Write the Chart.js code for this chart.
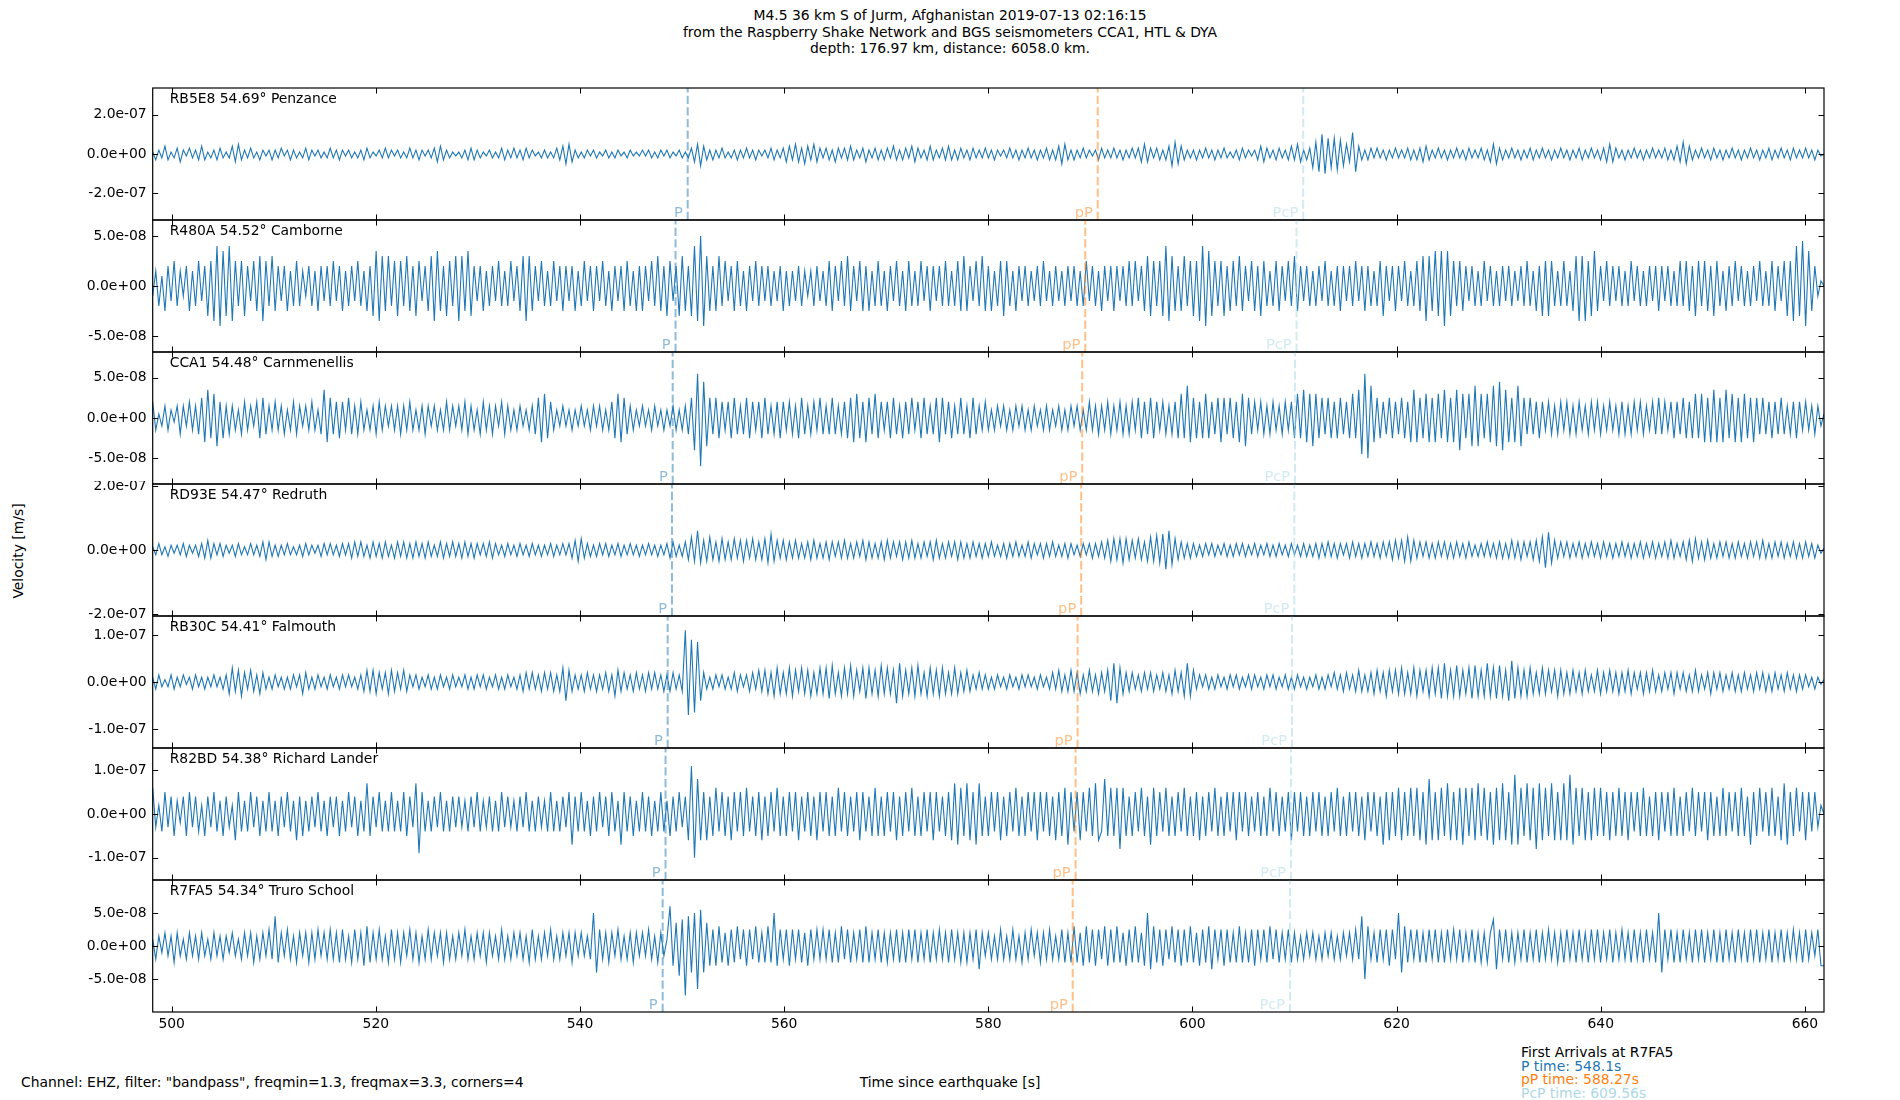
<!DOCTYPE html>
<html>
<head>
<meta charset="utf-8">
<script src="https://cdn.jsdelivr.net/npm/chart.js@4/dist/chart.umd.min.js"></script>
<style>
  body { margin: 0; background: #fff; width: 1900px; height: 1100px; position: relative; overflow: hidden;
         font-family: "DejaVu Sans", sans-serif; font-size: 13.9px; color: #000; }
  .txt { position: absolute; white-space: nowrap; line-height: 16px; }
  canvas { position: absolute; left: 0; }
</style>
</head>
<body>
<div class="txt" style="left:0;width:1900px;top:7px;text-align:center;line-height:16.7px">M4.5 36 km S of Jurm, Afghanistan 2019-07-13 02:16:15<br>from the Raspberry Shake Network and BGS seismometers CCA1, HTL &amp; DYA<br>depth: 176.97 km, distance: 6058.0 km.</div>
<div class="txt" style="left:-32px;top:543px;width:100px;text-align:center;transform:rotate(-90deg)">Velocity [m/s]</div>
<div class="txt" style="left:21px;top:1074px">Channel: EHZ, filter: "bandpass", freqmin=1.3, freqmax=3.3, corners=4</div>
<div class="txt" style="left:750px;width:400px;text-align:center;top:1074px">Time since earthquake [s]</div>
<div class="txt" style="left:1521px;top:1044px">First Arrivals at R7FA5</div>
<div class="txt" style="left:1521px;top:1058px;color:#1f77b4">P time: 548.1s</div>
<div class="txt" style="left:1521px;top:1071px;color:#ff7f0e">pP time: 588.27s</div>
<div class="txt" style="left:1521px;top:1085px;color:#add8e6">PcP time: 609.56s</div>

<script>
// tijd-as (s na de aardbeving)
const xStart = 498.14;
const xEnd = 661.87;
const xTickValues = [500, 520, 540, 560, 580, 600, 620, 640, 660];

// stations, van boven naar beneden
const stations = [
    'RB5E8 54.69° Penzance',
    'R480A 54.52° Camborne',
    'CCA1 54.48° Carnmenellis',
    'RD93E 54.47° Redruth',
    'RB30C 54.41° Falmouth',
    'R82BD 54.38° Richard Lander',
    'R7FA5 54.34° Truro School'
];

// aankomsttijden per station [s]
const pTimes = [550.55, 549.36, 549.08, 549.01, 548.59, 548.38, 548.1];
const ppTimes = [590.72, 589.5, 589.2, 589.1, 588.75, 588.55, 588.27];
const pcpTimes = [610.85, 610.2, 610.05, 609.98, 609.75, 609.65, 609.56];

// as-grenzen en tick-waarden [m/s]
const yLimits = [3.37e-7, 6.6e-8, 8.2e-8, 2.06e-7, 1.404e-7, 1.51e-7, 1.0e-7];
const yTickValues = [
    [-2e-7, 0, 2e-7],
    [-5e-8, 0, 5e-8],
    [-5e-8, 0, 5e-8],
    [-2e-7, 0, 2e-7],
    [-1e-7, 0, 1e-7],
    [-1e-7, 0, 1e-7],
    [-5e-8, 0, 5e-8]
];

// eenheid van de getallen in de sporen hieronder [m/s]
const waveUnits = [1e-8, 5e-9, 5e-9, 5e-9, 5e-9, 1e-8, 5e-9];

// sporen (elke rij = 6 s)
const penzance = [
    1,-3,2,-2,4,-3,1,-2,3,-4,2,-1,3,-2,2,-3,4,-3,1,-2,
    2,-3,3,-2,1,-2,4,-4,5,-3,2,-2,3,-2,1,-3,2,-1,2,-3,
    2,-2,3,-1,2,-3,2,-2,1,-2,3,-3,2,-1,2,-2,1,-2,3,-2,
    2,-3,2,-1,2,-2,1,-2,2,-3,3,-2,1,-1,2,-2,3,-2,2,-1,
    2,-2,1,-2,3,-2,2,-3,2,-1,2,-2,3,-4,4,-3,2,-2,1,-1,
    1,-2,2,-3,3,-3,2,-2,1,-1,2,-2,1,-2,3,-3,2,-2,3,-2,
    2,-3,3,-2,2,-1,1,-2,2,-2,1,-2,3,-3,4,-5,5,-4,2,-2,
    1,-2,2,-1,2,-2,1,-1,2,-2,1,-2,2,-1,1,-2,2,-1,1,-1,
    2,-1,2,-2,1,-2,2,-1,2,-2,1,-1,2,-2,1,-2,3,-4,5,-6,
    4,-3,2,-3,2,-2,3,-2,1,-2,2,-3,2,-2,3,-2,2,-3,2,-1,
    2,-2,3,-3,2,-2,3,-4,4,-3,5,-4,3,-5,4,-3,5,-4,3,-2,
    3,-3,2,-4,3,-2,3,-3,4,-3,2,-2,3,-4,2,-2,3,-3,2,-3,
    3,-2,4,-3,2,-3,3,-2,4,-4,3,-2,2,-3,4,-3,2,-2,3,-3,
    4,-3,2,-3,3,-2,2,-3,3,-2,2,-2,3,-2,2,-3,2,-1,2,-2,
    3,-2,2,-3,2,-2,3,-2,2,-3,2,-2,3,-3,2,-3,4,-5,5,-3,
    2,-3,2,-2,3,-2,2,-1,2,-3,3,-2,2,-2,3,-2,2,-3,2,-2,
    3,-2,3,-4,5,-4,3,-2,3,-3,2,-3,4,-6,6,-5,4,-3,2,-2,
    2,-3,2,-2,3,-2,2,-3,2,-2,3,-2,1,-2,2,-3,3,-2,2,-1,
    2,-3,4,-4,3,-2,2,-3,3,-2,2,-3,4,-3,5,-4,2,-3,3,-7,
    6,-9,10,-10,8,-7,8,-8,7,-6,5,-4,11,-9,4,-3,2,-3,3,-2,
    3,-2,2,-3,2,-2,3,-2,2,-2,3,-3,2,-3,3,-4,4,-3,2,-2,
    3,-2,2,-3,2,-2,3,-2,2,-3,3,-2,2,-2,3,-3,2,-4,5,-5,
    3,-3,2,-2,3,-2,2,-3,2,-2,3,-3,2,-2,3,-2,2,-3,2,-2,
    3,-2,2,-3,2,-2,3,-3,2,-2,3,-2,2,-3,3,-4,5,-4,3,-2,
    2,-3,2,-2,3,-2,2,-3,2,-2,3,-2,2,-2,3,-3,2,-3,4,-4,
    6,-5,4,-3,2,-2,3,-2,2,-3,3,-2,2,-3,2,-2,3,-2,2,-3,
    2,-2,3,-2,2,-3,2,-2,3,-3,2,-2,3,-2,2,-3,3,-2,2,-2,
    3,-2,2,-3,2,-1,0
];

const camborne = [
    -2,3,-4,2,-5,4,-3,5,-4,3,-2,4,-5,3,-4,5,-3,4,-6,5,
    -7,8,-8,7,-6,8,-7,5,-4,5,-6,4,-3,5,-5,6,-7,5,-4,6,
    -5,4,-3,4,-5,3,-4,5,-4,3,-2,4,-4,3,-5,4,-3,4,-4,5,
    -3,4,-5,3,-4,4,-3,5,-4,3,-5,4,-6,7,-7,6,-5,6,-4,5,
    -6,5,-4,6,-5,4,-6,5,-3,4,-5,6,-7,7,-5,4,-6,5,-4,6,
    -7,6,-5,7,-6,4,-3,4,-5,3,-4,4,-3,5,-4,3,-4,5,-3,4,
    -5,6,-7,6,-5,4,-3,5,-4,3,-4,5,-3,4,-5,4,-3,4,-5,3,
    -4,5,-3,4,-5,4,-3,5,-4,3,-5,4,-3,4,-5,5,-4,3,-5,4,
    -5,4,-3,5,-4,6,-5,4,-6,5,-3,4,-6,6,-5,4,-6,8,-7,10,
    -8,6,-5,4,-5,6,-4,5,-3,4,-5,5,-4,3,-5,4,-3,5,-4,4,
    -3,4,-4,3,-3,4,-5,3,-4,3,-3,4,-4,3,-2,3,-4,4,-3,3,
    -4,5,-5,4,-3,5,-4,6,-5,4,-3,5,-5,4,-5,3,-4,5,-4,3,
    -5,4,-3,5,-4,3,-5,5,-4,3,-4,5,-3,4,-5,4,-3,4,-4,5,
    -4,3,-4,5,-5,6,-5,4,-3,5,-4,6,-5,4,-5,3,-4,5,-6,5,
    -4,3,-5,4,-3,4,-4,3,-3,4,-4,5,-3,3,-4,4,-3,3,-4,4,
    -3,4,-4,3,-4,5,-3,4,-4,3,-5,4,-3,4,-5,4,-3,4,-4,5,
    -4,5,-3,4,-5,6,-6,5,-4,5,-6,8,-7,6,-5,4,-5,6,-4,5,
    -6,5,-7,8,-8,7,-6,5,-4,5,-6,4,-5,5,-4,6,-5,4,-3,5,
    -5,4,-6,5,-4,3,-4,5,-5,4,-3,5,-4,6,-5,4,-3,4,-4,3,
    -4,4,-3,5,-4,3,-4,4,-5,4,-3,4,-4,5,-3,4,-5,4,-4,3,
    -4,5,-6,4,-3,4,-5,4,-3,5,-4,3,-4,5,-5,6,-7,6,-5,7,
    -6,7,-8,7,-6,5,-4,5,-5,4,-3,4,-4,3,-4,5,-3,4,-4,3,
    -4,4,-3,4,-4,3,-3,4,-4,5,-4,3,-5,4,-6,5,-6,5,-4,3,
    -4,5,-4,3,-5,6,-7,6,-7,5,-6,7,-5,4,-3,5,-4,4,-3,4,
    -4,3,-4,5,-3,4,-4,3,-4,4,-3,4,-5,4,-3,4,-4,3,-4,5,
    -4,5,-5,4,-6,5,-4,5,-5,4,-6,5,-4,3,-5,4,-4,5,-3,4,
    -4,3,-4,4,-3,5,-4,3,-4,5,-5,4,-3,5,-6,5,-7,8,-6,9,
    -8,7,-5,4,-2,1,0
];

const carnmenellis = [
    4,-3,1,-2,3,-3,2,-1,3,-4,3,-2,4,-3,3,-4,5,-6,7,-5,
    6,-7,4,-5,3,-4,3,-3,2,-4,4,-3,3,-2,4,-5,5,-4,3,-3,
    4,-3,3,-4,2,-3,4,-4,3,-2,3,-3,4,-3,2,-4,7,-6,5,-4,
    4,-5,4,-3,5,-4,3,-4,4,-3,2,-3,3,-4,4,-3,3,-2,3,-3,
    3,-4,3,-3,4,-3,2,-3,3,-4,3,-2,3,-3,2,-3,4,-3,3,-2,
    3,-3,4,-4,3,-3,2,-4,4,-3,3,-4,3,-2,4,-4,3,-3,2,-3,
    3,-2,2,-3,3,-4,5,-6,6,-5,4,-3,2,-2,3,-2,2,-3,2,-2,
    3,-2,2,-3,3,-2,3,-3,2,-3,4,-5,6,-6,5,-4,3,-3,2,-2,
    3,-2,2,-3,3,-2,2,-3,2,-2,3,-3,2,-3,3,-4,5,-8,11,-12,
    9,-7,5,-4,5,-5,4,-3,4,-5,5,-4,3,-4,5,-5,4,-3,4,-5,
    5,-4,3,-4,4,-5,4,-3,4,-4,3,-5,5,-4,3,-4,4,-3,5,-4,
    3,-4,5,-4,3,-4,4,-5,5,-6,6,-5,4,-6,5,-4,6,-5,4,-3,
    4,-5,5,-4,3,-5,4,-4,5,-3,4,-5,5,-4,3,-4,5,-6,5,-4,
    4,-5,3,-4,5,-4,3,-5,5,-4,3,-3,4,-3,2,-3,3,-2,3,-3,
    2,-3,3,-2,3,-3,2,-3,3,-2,2,-3,3,-3,2,-2,3,-3,2,-3,
    3,-2,3,-3,2,-3,4,-3,3,-4,3,-3,4,-4,3,-3,4,-4,3,-4,
    4,-3,5,-5,4,-4,5,-5,4,-3,4,-4,3,-4,4,-5,6,-5,8,-6,
    5,-5,4,-5,6,-5,4,-4,5,-6,5,-4,5,-5,4,-6,6,-7,5,-4,
    4,-3,4,-4,3,-4,4,-3,3,-4,4,-3,4,-5,6,-5,7,-6,6,-7,
    6,-5,5,-4,5,-5,4,-5,5,-4,4,-5,6,-5,7,-9,11,-10,8,-6,
    5,-5,4,-4,5,-5,4,-4,5,-5,4,-6,7,-6,5,-5,6,-6,5,-6,
    6,-5,7,-6,5,-6,7,-8,6,-5,6,-7,8,-7,6,-5,6,-6,8,-7,
    9,-8,7,-6,5,-6,8,-7,5,-4,5,-4,4,-5,4,-3,4,-4,3,-4,
    4,-3,4,-4,3,-4,4,-3,3,-4,4,-3,4,-4,3,-3,4,-3,3,-4,
    4,-4,3,-4,4,-3,4,-4,3,-3,4,-4,5,-4,4,-3,4,-5,4,-4,
    5,-5,4,-5,6,-5,6,-6,5,-6,7,-6,5,-6,7,-5,6,-6,5,-6,
    6,-5,5,-6,5,-4,5,-4,4,-5,4,-4,5,-4,3,-4,4,-5,4,-3,
    4,-3,3,-4,3,-2,1
];

const redruth = [
    2,-3,4,-3,2,-4,3,-2,3,-3,4,-4,3,-2,3,-4,4,-5,6,-5,
    4,-3,4,-4,3,-2,3,-4,4,-3,2,-3,4,-3,3,-4,5,-6,5,-4,
    3,-4,3,-3,4,-3,2,-3,3,-4,4,-3,3,-2,3,-4,4,-3,4,-3,
    3,-4,4,-3,4,-5,5,-4,5,-4,3,-5,5,-4,4,-5,5,-4,3,-5,
    5,-4,5,-5,4,-5,5,-4,4,-5,5,-4,3,-4,5,-5,4,-4,5,-4,
    4,-5,5,-4,4,-5,4,-3,4,-4,5,-5,4,-3,3,-4,4,-3,3,-4,
    4,-3,3,-4,4,-3,3,-4,3,-3,4,-4,3,-3,4,-3,4,-5,6,-7,
    7,-5,4,-4,3,-4,4,-3,4,-4,3,-3,4,-4,3,-3,4,-3,3,-4,
    3,-3,4,-3,3,-4,3,-3,4,-5,5,-4,3,-4,5,-6,8,-7,12,-8,
    6,-7,8,-6,5,-7,7,-6,5,-6,7,-5,6,-7,6,-5,7,-6,5,-6,
    7,-8,10,-7,6,-5,6,-6,5,-5,6,-5,4,-5,5,-6,6,-5,4,-5,
    5,-6,5,-4,5,-5,6,-5,4,-5,5,-4,6,-6,5,-5,4,-5,5,-6,
    6,-5,5,-4,5,-6,5,-5,6,-5,4,-5,5,-4,5,-6,6,-5,4,-5,
    5,-4,5,-6,5,-5,4,-5,5,-4,4,-5,4,-4,5,-4,3,-4,4,-5,
    4,-4,5,-4,3,-4,5,-5,4,-3,4,-5,4,-4,5,-4,3,-4,4,-5,
    4,-3,3,-4,4,-3,4,-5,4,-4,5,-5,6,-7,7,-6,7,-8,7,-6,
    6,-5,7,-6,5,-7,8,-7,9,-8,10,-12,12,-9,7,-6,5,-5,4,-5,
    4,-4,3,-4,4,-3,4,-4,3,-3,4,-4,3,-4,4,-3,4,-4,3,-3,
    4,-4,3,-3,4,-4,3,-4,4,-3,3,-4,4,-3,3,-4,4,-4,3,-4,
    4,-5,4,-4,5,-4,4,-5,4,-3,4,-5,5,-4,4,-5,4,-4,5,-4,
    4,-5,5,-4,5,-6,6,-5,6,-7,8,-7,6,-5,5,-4,5,-5,4,-5,
    5,-4,5,-5,4,-5,5,-4,4,-5,5,-4,3,-4,4,-4,5,-4,4,-5,
    5,-5,4,-5,6,-5,5,-6,5,-4,5,-6,6,-7,8,-11,11,-8,6,-5,
    5,-4,5,-5,4,-4,5,-5,4,-4,5,-4,4,-5,5,-4,4,-5,4,-4,
    5,-4,4,-5,4,-4,5,-5,4,-4,5,-5,4,-4,5,-5,6,-5,4,-4,
    5,-6,6,-7,7,-5,5,-6,6,-5,4,-5,5,-4,5,-5,4,-5,5,-4,
    4,-5,5,-4,5,-5,6,-5,4,-5,5,-4,5,-5,4,-4,5,-5,4,-5,
    5,-4,4,-5,3,-2,1
];

const falmouth = [
    2,-3,3,-2,1,-2,3,-3,2,-2,3,-1,2,-3,3,-2,2,-3,2,-2,
    3,-2,2,-3,3,-5,6,-4,5,-6,4,-3,5,-4,3,-5,4,-3,2,-3,
    3,-2,2,-3,2,-3,3,-2,3,-5,4,-3,2,-3,3,-2,2,-3,3,-2,
    2,-3,3,-2,3,-2,2,-3,3,-4,5,-4,5,-5,4,-3,4,-5,5,-4,
    4,-3,5,-4,3,-2,3,-3,2,-2,3,-3,2,-3,3,-2,2,-3,3,-2,
    2,-2,3,-3,2,-3,3,-2,3,-3,2,-2,3,-3,2,-3,3,-2,2,-3,
    3,-4,4,-3,4,-3,3,-4,4,-3,4,-4,3,-4,6,-8,5,-4,3,-3,
    3,-4,4,-3,3,-4,3,-3,4,-4,3,-6,5,-4,4,-3,3,-4,4,-3,
    3,-4,4,-3,4,-3,3,-4,3,-4,4,-3,3,-4,22,-14,18,-13,17,-8,
    4,-3,2,-3,3,-2,3,-3,2,-3,4,-4,3,-2,3,-4,4,-3,5,-4,
    5,-5,4,-6,6,-5,4,-5,6,-6,5,-4,6,-5,5,-6,4,-5,6,-5,
    6,-7,7,-5,4,-6,6,-5,7,-6,5,-4,6,-7,6,-5,5,-6,7,-5,
    6,-5,5,-9,8,-6,5,-5,6,-6,7,-5,4,-6,6,-5,5,-6,6,-5,
    4,-5,6,-5,4,-4,5,-4,3,-3,4,-3,3,-3,2,-3,3,-2,2,-3,
    3,-2,2,-3,3,-2,3,-2,2,-3,3,-2,2,-3,4,-3,5,-4,3,-4,
    5,-4,4,-5,3,-4,5,-4,3,-5,4,-4,5,-8,8,-9,6,-5,4,-4,
    4,-3,3,-4,4,-3,4,-4,3,-3,4,-4,3,-5,5,-4,4,-6,8,-6,
    5,-3,3,-2,3,-3,2,-3,3,-2,2,-3,3,-2,3,-3,2,-2,3,-3,
    3,-2,2,-3,3,-2,3,-3,2,-2,3,-3,2,-3,3,-2,2,-3,2,-2,
    3,-3,2,-3,3,-2,4,-3,3,-4,4,-3,3,-4,5,-4,3,-4,4,-5,
    5,-4,4,-6,5,-4,5,-5,6,-5,4,-5,6,-6,5,-4,5,-6,6,-5,
    6,-7,8,-6,5,-6,7,-6,5,-5,6,-7,7,-6,5,-6,8,-6,6,-7,
    7,-6,5,-8,9,-7,6,-6,5,-6,6,-5,4,-5,6,-5,5,-4,5,-6,
    5,-5,4,-5,5,-4,4,-5,5,-4,3,-4,5,-5,4,-4,5,-4,4,-5,
    4,-4,5,-5,4,-3,4,-5,4,-4,5,-4,3,-4,4,-3,4,-5,4,-3,
    4,-4,3,-4,5,-4,3,-3,4,-5,4,-3,4,-4,3,-3,4,-4,3,-4,
    4,-3,3,-4,4,-3,4,-4,3,-4,4,-3,3,-4,4,-3,3,-4,3,-3,
    3,-2,2,-3,2,-1,1
];

const richardLander = [
    6,-3,2,-4,5,-3,4,-5,3,-2,4,-5,5,-3,4,-4,2,-5,4,-3,
    5,-4,3,-5,4,-3,2,-6,5,-4,3,-4,5,-3,4,-5,3,-4,5,-4,
    3,-5,4,-3,5,-4,3,-6,4,-5,3,-4,4,-3,5,-4,3,-5,4,-3,
    4,-5,3,-4,5,-3,4,-5,3,-4,7,-5,4,-3,5,-4,3,-4,5,-4,
    3,-4,5,-5,4,-3,7,-9,5,-4,3,-4,4,-3,5,-4,3,-4,4,-3,
    4,-3,3,-4,4,-3,5,-4,3,-3,4,-4,3,-4,5,-3,4,-3,3,-4,
    4,-3,5,-4,3,-4,4,-3,3,-4,5,-4,3,-4,4,-3,5,-7,4,-4,
    5,-4,3,-5,4,-4,5,-3,4,-5,5,-4,3,-7,5,-4,4,-5,3,-4,
    5,-4,4,-5,3,-4,5,-4,3,-5,4,-4,5,-3,4,-6,11,-10,8,-6,
    5,-6,4,-5,6,-4,5,-5,4,-6,5,-4,5,-5,6,-4,4,-5,5,-6,
    4,-5,5,-4,6,-5,4,-5,5,-4,5,-6,4,-4,5,-5,4,-6,5,-4,
    5,-5,4,-5,6,-4,5,-5,4,-4,5,-6,5,-4,4,-5,6,-5,4,-5,
    5,-4,5,-6,4,-5,5,-4,6,-5,4,-5,5,-4,5,-6,5,-4,4,-5,
    5,-6,7,-7,6,-5,7,-6,5,-7,7,-5,4,-5,5,-4,5,-6,4,-5,
    5,-4,6,-5,4,-5,5,-4,5,-6,5,-4,5,-5,4,-6,5,-5,6,-7,
    5,-4,5,-6,5,-4,6,-5,7,-6,-4,8,-5,6,-5,6,-8,6,-5,4,
    -5,5,-4,6,-5,4,-7,6,-5,5,-4,6,-5,4,-5,5,-4,6,-5,4,
    -5,5,-6,4,-5,5,-4,6,-5,4,-5,5,-4,5,-6,5,-4,5,-5,4,
    -4,5,-5,4,-5,6,-4,5,-5,4,-4,5,-6,5,-4,5,-5,4,-5,5,
    -4,5,-5,4,-5,5,-4,6,-5,4,-5,5,-4,5,-5,4,-6,5,-4,5,
    -5,4,-7,5,-6,5,-5,6,-6,5,-5,6,-5,6,-6,5,-7,8,-6,5,
    -6,6,-5,7,-6,5,-6,6,-7,6,-5,6,-6,7,-5,6,-6,5,-7,6,
    -6,7,-6,5,-7,9,-7,6,-5,7,-6,6,-8,7,-6,6,-5,7,-6,5,
    -6,7,-6,9,-7,6,-5,6,-6,5,-6,6,-5,6,-5,5,-6,5,-5,6,
    -5,5,-6,5,-4,5,-5,6,-5,4,-5,5,-6,5,-4,5,-5,6,-5,4,
    -5,5,-4,6,-5,5,-4,5,-6,5,-5,4,-5,6,-5,5,-4,5,-5,6,
    -5,4,-7,5,-5,6,-4,5,-5,6,-5,4,-6,7,-7,5,-5,6,-4,5,
    -6,5,-4,5,-3,2,0
];

const truroSchool = [
    2,-4,3,-2,4,-3,3,-5,4,-3,2,-4,4,-3,3,-4,4,-3,2,-4,
    4,-3,3,-4,3,-2,4,-3,2,-4,4,-3,4,-5,3,-4,4,-3,5,-4,
    9,-5,4,-3,5,-4,3,-5,4,-3,4,-5,4,-4,5,-3,4,-4,5,-4,
    4,-5,5,-4,3,-5,5,-4,4,-6,6,-5,4,-4,5,-4,3,-5,5,-4,
    4,-5,4,-3,5,-4,4,-5,3,-4,5,-4,4,-3,4,-5,4,-4,3,-4,
    4,-3,5,-4,3,-4,4,-3,4,-5,4,-3,3,-4,5,-4,3,-4,4,-3,
    4,-4,3,-5,5,-4,3,-4,4,-3,5,-4,3,-4,4,-3,4,-5,4,-3,
    4,-3,3,-4,10,-8,5,-4,4,-5,4,-3,5,-4,3,-4,4,-5,4,-3,
    4,-3,5,-4,3,-5,4,-3,2,12,-6,7,-9,8,-15,9,-8,10,-13,11,
    -8,7,-6,5,-6,6,-5,4,-6,5,-5,6,-4,5,-6,5,-4,6,-5,4,
    -5,6,-5,10,-6,5,-4,5,-6,5,-4,5,-5,4,-6,5,-4,5,-4,5,
    -4,5,-5,4,-5,6,-4,5,-5,4,-4,5,-5,6,-5,4,-4,5,-5,4,
    -5,4,-4,5,-5,4,-5,5,-4,5,-5,4,-4,5,-5,4,-4,5,-4,4,
    -5,5,-4,4,-5,4,-5,4,-4,5,-7,4,-3,4,-4,3,-4,5,-4,3,
    -4,5,-4,3,-5,4,-4,5,-3,4,-5,4,-4,5,-4,3,-4,5,-5,4,
    -5,6,-5,4,-6,6,-5,5,-6,5,-4,6,-6,5,-5,6,-5,4,-6,5,
    -5,6,-5,4,-6,10,-7,6,-5,5,-6,5,-4,6,-5,5,-6,5,-5,6,
    -5,4,-6,5,-5,6,-7,5,-4,5,-6,5,-5,4,-5,6,-5,4,-5,5,
    -6,5,-4,5,-5,6,-4,5,-5,4,-4,5,-5,4,-4,3,-4,4,-3,4,
    -4,3,-4,4,-3,4,-4,3,-4,4,-3,4,-4,5,-4,9,-10,6,-4,4,
    -5,5,-4,5,-6,5,-4,10,-8,6,-5,5,-4,5,-5,4,-5,5,-4,5,
    -5,4,-5,5,-4,5,-4,5,-5,4,-4,5,-5,4,-5,4,-5,4,8,-7,
    5,-4,5,-5,4,-5,4,-4,5,-5,4,-4,5,-5,4,-4,5,-4,4,-5,
    4,-5,5,-4,4,-5,5,-4,4,-5,5,-4,5,-5,4,-4,5,-5,4,-4,
    5,-4,4,-5,5,-4,4,-5,5,-4,4,-5,10,-8,5,-4,5,-5,4,-5,
    5,-4,4,-5,5,-4,5,-5,4,-4,5,-5,4,-5,5,-4,4,-5,5,-4,
    4,-5,5,-4,5,-5,4,-4,5,-5,4,-4,5,-5,4,-4,5,-4,4,-5,
    5,-4,4,-3,5,-6,-6
];

const traces = [penzance, camborne, carnmenellis, redruth, falmouth, richardLander, truroSchool];

// ---- layout ----
const panelTop = 88, panelHeight = 132, plotLeft = 152.7, plotRight = 1824, pad = 3, xAxisHeight = 36;
const FONT = '13.9px "DejaVu Sans"';
const PHASE_FONT = '14.6px "DejaVu Sans"';

Chart.defaults.font.family = 'DejaVu Sans';
Chart.defaults.font.size = 13.9;
Chart.defaults.color = '#000';

function fmtExp(v) {
    return Number(v).toExponential(1).replace(/e([+-])(\d)$/, 'e$10$2');
}

function line(ctx, x1, y1, x2, y2) {
    ctx.beginPath(); ctx.moveTo(x1, y1); ctx.lineTo(x2, y2); ctx.stroke();
}

// geen extra ruimte rond de assen, het plotvlak ligt vast
function noScalePadding(s) {
    s.paddingTop = 0; s.paddingBottom = 0; s.paddingLeft = 0; s.paddingRight = 0;
}

const arrivalStyle = [
    { name: 'P', color: 'rgba(31,119,180,0.5)' },
    { name: 'pP', color: 'rgba(255,127,14,0.5)' },
    { name: 'PcP', color: 'rgba(173,216,230,0.55)' }
];

// lijst, ticks naar binnen, labels
const panelDecor = {
    id: 'panelDecor',
    afterDraw(chart, args, opts) {
        const k = opts.index;
        const { ctx, chartArea: a, scales: { x, y } } = chart;
        ctx.save();

        // fase-labels onderaan
        const times = [pTimes[k], ppTimes[k], pcpTimes[k]];
        ctx.font = PHASE_FONT;
        ctx.textAlign = 'right';
        ctx.textBaseline = 'alphabetic';
        times.forEach((t, i) => {
            ctx.fillStyle = arrivalStyle[i].color;
            ctx.fillText(arrivalStyle[i].name, x.getPixelForValue(t) - 5, a.bottom - 3);
        });

        // stationnaam
        ctx.font = FONT;
        ctx.fillStyle = '#000';
        ctx.textAlign = 'left';
        ctx.textBaseline = 'middle';
        ctx.fillText(stations[k], a.left + 17, a.top + 11);

        // kader
        ctx.strokeStyle = '#000';
        ctx.lineWidth = 1.2;
        ctx.strokeRect(a.left, a.top, a.right - a.left, a.bottom - a.top);

        // ticks
        ctx.lineWidth = 1;
        xTickValues.forEach(v => {
            const px = Math.round(x.getPixelForValue(v)) + 0.5;
            line(ctx, px, a.bottom, px, a.bottom - 5.5);
            line(ctx, px, a.top, px, a.top + 5.5);
        });
        yTickValues[k].forEach(v => {
            const py = Math.round(y.getPixelForValue(v)) + 0.5;
            line(ctx, a.left, py, a.left + 5.5, py);
            line(ctx, a.right, py, a.right - 5.5, py);
        });
        ctx.restore();
    }
};

traces.forEach((trace, k) => {
    const last = k === traces.length - 1;
    const lim = yLimits[k];
    const unit = waveUnits[k];
    const dt = (xEnd - xStart) / (trace.length - 1);
    const wave = trace.map((v, i) => ({ x: xStart + i * dt, y: v * unit }));

    const canvas = document.createElement('canvas');
    canvas.width = 1900;
    canvas.height = pad + panelHeight + (last ? xAxisHeight : pad);
    canvas.style.top = (panelTop + panelHeight * k - pad) + 'px';
    canvas.style.width = canvas.width + 'px';
    canvas.style.height = canvas.height + 'px';
    document.body.appendChild(canvas);

    const arrivalSets = [pTimes[k], ppTimes[k], pcpTimes[k]].map((t, i) => ({
        data: [{ x: t, y: -lim }, { x: t, y: lim }],
        borderColor: arrivalStyle[i].color,
        borderWidth: 2,
        borderDash: [8.3, 3.3],
        pointRadius: 0,
        order: 0
    }));

    new Chart(canvas.getContext('2d'), {
        type: 'line',
        data: {
            datasets: [{
                data: wave,
                borderColor: '#1f77b4',
                borderWidth: 1.1,
                pointRadius: 0,
                tension: 0,
                order: 1
            }, ...arrivalSets]
        },
        options: {
            responsive: false,
            maintainAspectRatio: false,
            animation: false,
            events: [],
            layout: { padding: { left: 0, right: 1900 - plotRight, top: pad, bottom: last ? 0 : pad } },
            plugins: {
                legend: { display: false },
                tooltip: { enabled: false },
                panelDecor: { index: k }
            },
            scales: {
                x: {
                    type: 'linear',
                    min: xStart,
                    max: xEnd,
                    display: last,
                    grid: { display: false, drawTicks: false },
                    border: { display: false },
                    afterBuildTicks: s => { s.ticks = xTickValues.map(v => ({ value: v })); },
                    afterFit: s => { noScalePadding(s); s.height = last ? xAxisHeight : 0; },
                    ticks: { padding: 4, maxRotation: 0, autoSkip: false, callback: v => String(v) }
                },
                y: {
                    min: -lim,
                    max: lim,
                    grid: { display: false, drawTicks: false },
                    border: { display: false },
                    afterBuildTicks: s => { s.ticks = yTickValues[k].map(v => ({ value: v })); },
                    afterFit: s => { noScalePadding(s); s.width = plotLeft; },
                    ticks: { padding: 6, autoSkip: false, callback: v => fmtExp(v) }
                }
            }
        },
        plugins: [panelDecor]
    });
});
</script>
</body>
</html>
